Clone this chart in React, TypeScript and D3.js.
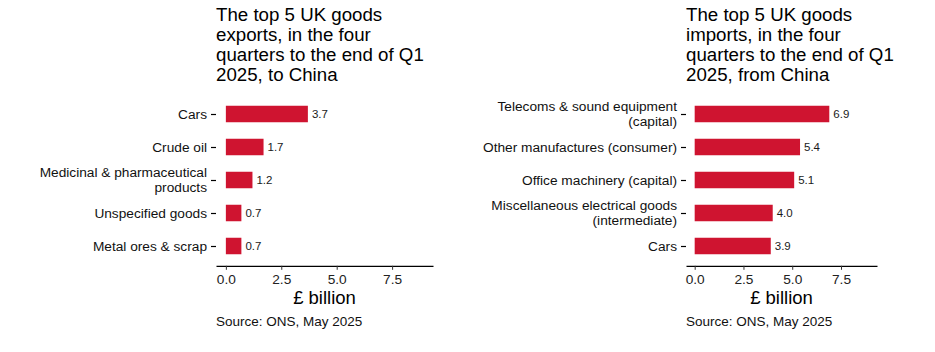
import React, { useEffect, useRef } from 'react';
import * as d3 from 'd3';

// Exports to China (four quarters to end of Q1 2025)
const exportCategories = ['Cars', 'Crude oil', 'Medicinal & pharmaceutical\nproducts', 'Unspecified goods', 'Metal ores & scrap'];
const exportValues = [3.7, 1.7, 1.2, 0.7, 0.7];
const exportTitle = ['The top 5 UK goods', 'exports, in the four', 'quarters to the end of Q1', '2025, to China'];

// Imports from China
const importCategories = ['Telecoms & sound equipment\n(capital)', 'Other manufactures (consumer)', 'Office machinery (capital)', 'Miscellaneous electrical goods\n(intermediate)', 'Cars'];
const importValues = [6.9, 5.4, 5.1, 4.0, 3.9];
const importTitle = ['The top 5 UK goods', 'imports, in the four', 'quarters to the end of Q1', '2025, from China'];

const xTicks = [0, 2.5, 5, 7.5];
const xLimit = 8.9;
const axisTitle = '£ billion';
const source = 'Source: ONS, May 2025';

const FONT = '"Liberation Sans", Arial, Helvetica, sans-serif';
const BAR = '#cf1430';

const panelTop = 94.2;
const panelBottom = 265.8;

type PanelProps = {
  g: d3.Selection<SVGGElement, unknown, null, undefined>;
  left: number;
  right: number;
  categories: string[];
  values: number[];
  title: string[];
};

function drawPanel({ g, left, right, categories, values, title }: PanelProps) {
  const x = d3.scaleLinear()
    .domain([-0.05 * xLimit, 1.05 * xLimit])
    .range([left, right]);

  const y = d3.scalePoint<string>()
    .domain(categories)
    .range([panelTop, panelBottom])
    .padding(0.6);

  const barH = y.step() * 0.5;

  // Title
  const t = g.append('text')
    .attr('x', left)
    .attr('font-size', 18.7)
    .attr('fill', '#000');
  title.forEach((line, i) => {
    t.append('tspan').attr('x', left).attr('y', 21.3 + i * 20).text(line);
  });

  // Bars
  g.selectAll('rect.bar')
    .data(categories)
    .enter()
    .append('rect')
    .attr('class', 'bar')
    .attr('x', x(0))
    .attr('y', d => (y(d) as number) - barH / 2)
    .attr('width', (d, i) => x(values[i]) - x(0))
    .attr('height', barH)
    .attr('fill', BAR);

  // Value labels
  g.selectAll('text.val')
    .data(categories)
    .enter()
    .append('text')
    .attr('class', 'val')
    .attr('x', (d, i) => x(values[i]) + 4)
    .attr('y', d => (y(d) as number) + 4)
    .attr('font-size', 11.5)
    .attr('fill', '#1a1a1a')
    .text((d, i) => values[i].toFixed(1));

  // X axis
  const xAxis = g.append('g')
    .attr('transform', `translate(0,${panelBottom})`)
    .call(d3.axisBottom(x).tickValues(xTicks).tickFormat(d3.format('.1f')).tickSize(4).tickPadding(4).tickSizeOuter(0));
  xAxis.select('.domain').attr('stroke', '#000').attr('stroke-width', 1.3);
  xAxis.selectAll('.tick line').attr('stroke', '#333');
  xAxis.selectAll('.tick text')
    .attr('font-family', FONT)
    .attr('font-size', 13.7)
    .attr('fill', '#222');

  // Y axis ticks, labels drawn separately for line breaks
  const yAxis = g.append('g')
    .attr('transform', `translate(${left},0)`)
    .call(d3.axisLeft(y).tickSize(5).tickFormat(() => ''));
  yAxis.select('.domain').remove();
  yAxis.selectAll('.tick line').attr('stroke', '#000').attr('stroke-width', 1.2);

  categories.forEach(c => {
    const lines = c.split('\n');
    const cy = y(c) as number;
    const start = cy - ((lines.length - 1) * 15) / 2 + 4.8;
    const lbl = g.append('text')
      .attr('text-anchor', 'end')
      .attr('font-size', 13.7)
      .attr('fill', '#111');
    lines.forEach((line, i) => {
      lbl.append('tspan').attr('x', left - 9).attr('y', start + i * 15).text(line);
    });
  });

  // Axis title and source
  g.append('text')
    .attr('x', (left + right) / 2)
    .attr('y', 303.5)
    .attr('text-anchor', 'middle')
    .attr('font-size', 18.5)
    .attr('fill', '#000')
    .text(axisTitle);

  g.append('text')
    .attr('x', left)
    .attr('y', 325.5)
    .attr('font-size', 13.5)
    .attr('fill', '#111')
    .text(source);
}

const App = () => {
  const svgRef = useRef<SVGSVGElement>(null);

  useEffect(() => {
    const svg = d3.select(svgRef.current);
    svg.selectAll('*').remove();

    const root = svg.append('g').attr('font-family', FONT);

    drawPanel({
      g: root.append('g'),
      left: 216,
      right: 433,
      categories: exportCategories,
      values: exportValues,
      title: exportTitle,
    });

    drawPanel({
      g: root.append('g'),
      left: 686,
      right: 877,
      categories: importCategories,
      values: importValues,
      title: importTitle,
    });
  }, []);

  return (
    <svg
      ref={svgRef}
      width={935}
      height={352}
      style={{ position: 'absolute', left: 0, top: 0, background: '#fff' }}
    />
  );
};

export default App;
